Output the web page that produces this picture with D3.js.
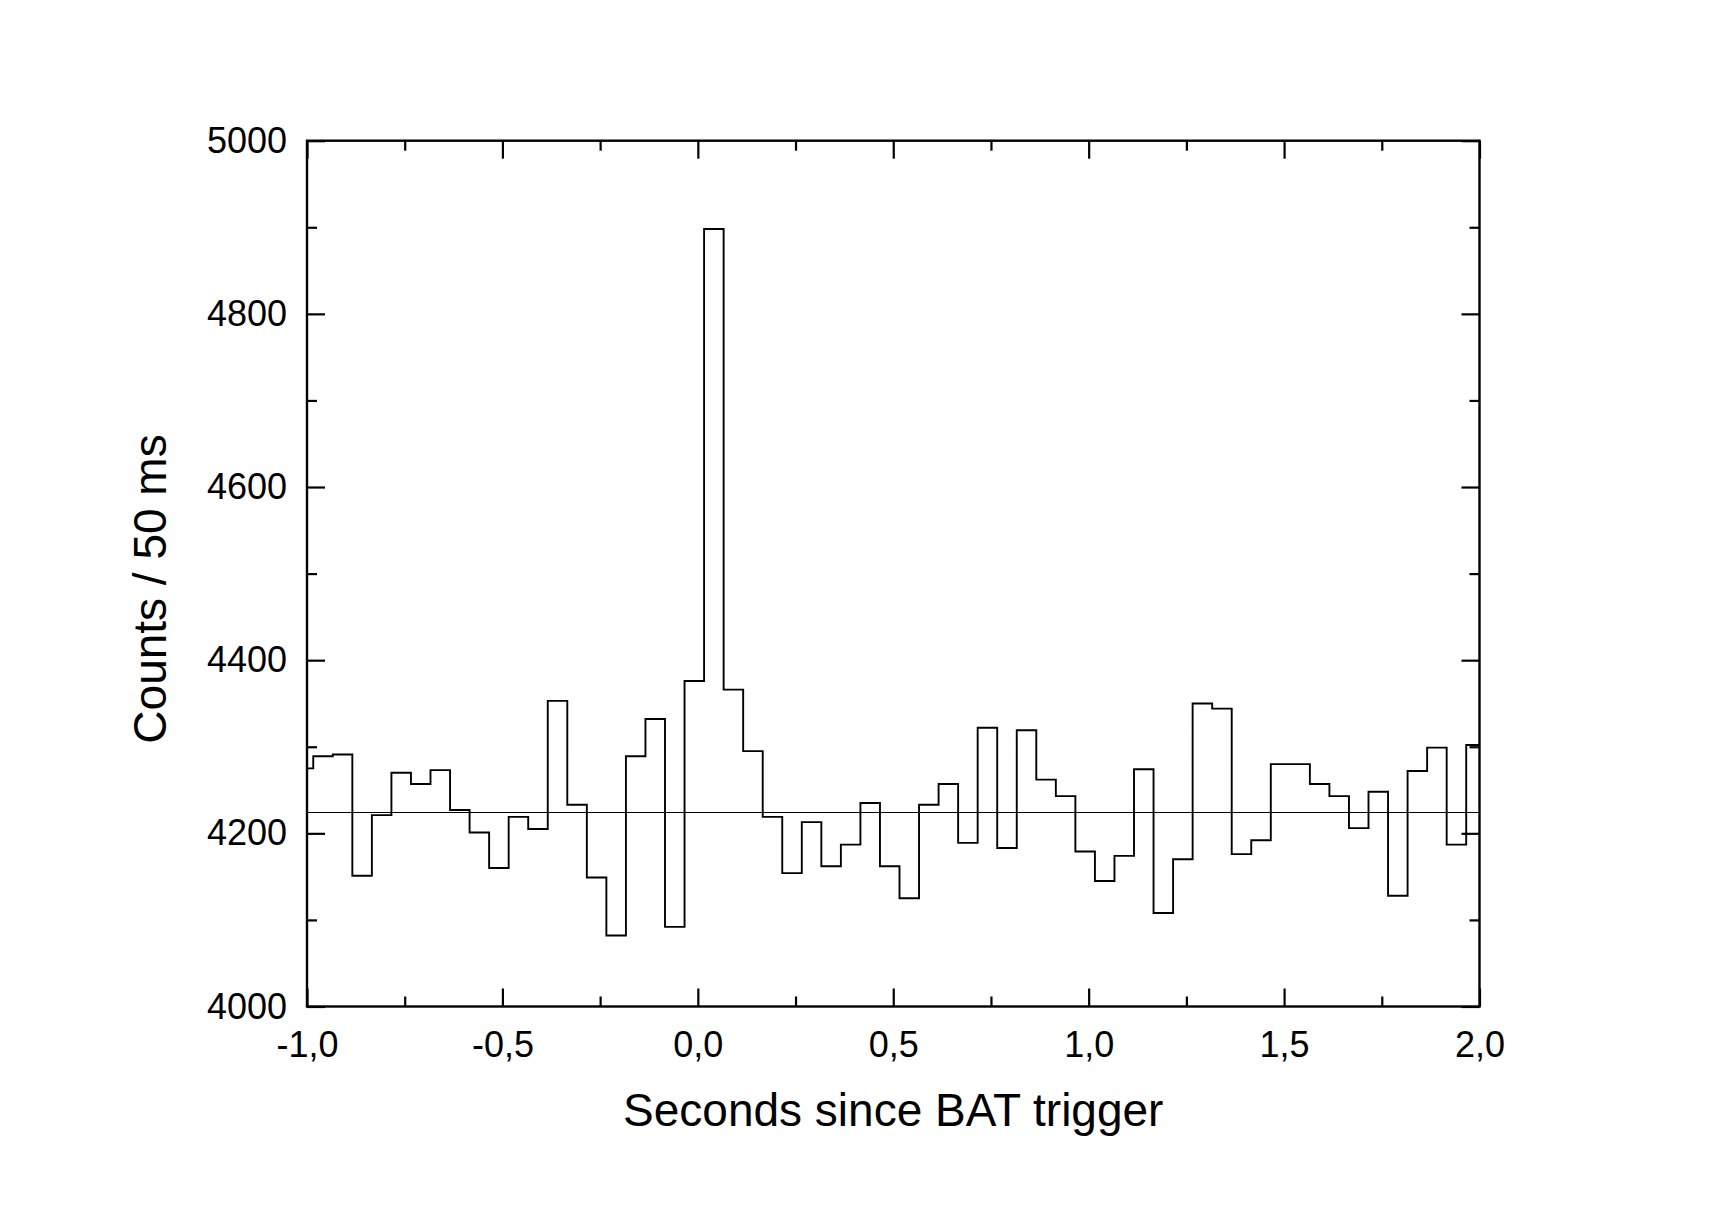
<!DOCTYPE html>
<html>
<head>
<meta charset="utf-8">
<script src="https://cdn.jsdelivr.net/npm/d3@7"></script>
<style>
  html, body { margin: 0; padding: 0; background: #fff; }
  svg { display: block; }
  text { font-family: "Liberation Sans", Arial, Helvetica, sans-serif; fill: #000; }
</style>
</head>
<body>
<script>
// ---- Data ----
const binStarts = [
  -1.034, -0.984, -0.934, -0.884, -0.834, -0.784, -0.734, -0.684, -0.634, -0.584,
  -0.534, -0.484, -0.434, -0.384, -0.334, -0.284, -0.234, -0.184, -0.134, -0.084,
  -0.034,  0.016,  0.066,  0.116,  0.166,  0.216,  0.266,  0.316,  0.366,  0.416,
   0.466,  0.516,  0.566,  0.616,  0.666,  0.716,  0.766,  0.816,  0.866,  0.916,
   0.966,  1.016,  1.066,  1.116,  1.166,  1.216,  1.266,  1.316,  1.366,  1.416,
   1.466,  1.516,  1.566,  1.616,  1.666,  1.716,  1.766,  1.816,  1.866,  1.916,
   1.966
];
const binWidth = 0.05;
const counts = [
  4275, 4289, 4291, 4151, 4221, 4270, 4257, 4273, 4227, 4201,
  4160, 4219, 4205, 4353, 4233, 4149, 4082, 4289, 4332, 4092,
  4376, 4898, 4366, 4295, 4219, 4154, 4213, 4162, 4187, 4235,
  4162, 4125, 4233, 4257, 4189, 4322, 4183, 4319, 4262, 4243,
  4179, 4145, 4174, 4274, 4108, 4170, 4350, 4344, 4176, 4192,
  4280, 4280, 4257, 4243, 4206, 4248, 4128, 4272, 4299, 4187,
  4302
];
const meanLevel = 4224;
const xDomain = [-1, 2];
const yDomain = [4000, 5000];
const xMajorTicks = [-1.0, -0.5, 0.0, 0.5, 1.0, 1.5, 2.0];
const xMinorTicks = [-0.75, -0.25, 0.25, 0.75, 1.25, 1.75];
const yMajorTicks = [4000, 4200, 4400, 4600, 4800, 5000];
const yMinorTicks = [4100, 4300, 4500, 4700, 4900];
const xTitle = "Seconds since BAT trigger";
const yTitle = "Counts / 50 ms";

// ---- Layout ----
const W = 1721, H = 1207;
const pL = 307, pR = 1479.5, pT = 140.7, pB = 1006.5;

const svg = d3.select("body").append("svg")
  .attr("width", W).attr("height", H)
  .attr("viewBox", `0 0 ${W} ${H}`);
svg.append("rect").attr("width", W).attr("height", H).attr("fill", "#fff");

const x = d3.scaleLinear().domain(xDomain).range([pL, pR]);
const y = d3.scaleLinear().domain(yDomain).range([pB, pT]);

const locale = d3.formatLocale({decimal: ",", thousands: "", grouping: [3], currency: ["", ""], minus: "-"});
const fmtX = locale.format(".1f");

svg.append("defs").append("clipPath").attr("id", "plotClip")
  .append("rect").attr("x", pL).attr("y", pT)
  .attr("width", pR - pL).attr("height", pB - pT);

// Mean level line
svg.append("line")
  .attr("x1", x(xDomain[0])).attr("x2", x(xDomain[1]))
  .attr("y1", y(meanLevel)).attr("y2", y(meanLevel))
  .attr("stroke", "#000").attr("stroke-width", 1.1);

// Step histogram
const pts = [];
binStarts.forEach((s, i) => {
  pts.push([s, counts[i]]);
  pts.push([s + binWidth, counts[i]]);
});
const line = d3.line().x(d => x(d[0])).y(d => y(d[1]));
svg.append("path")
  .attr("clip-path", "url(#plotClip)")
  .attr("d", line(pts))
  .attr("fill", "none").attr("stroke", "#000")
  .attr("stroke-width", 1.9).attr("stroke-linejoin", "miter");

// ---- Axes ----
const MAJ = 18, MIN = 10;
const fontSize = 36;

function styleAxis(g) {
  g.select(".domain").remove();
  g.selectAll(".tick line").attr("stroke", "#000").attr("stroke-width", 2.2);
  g.selectAll(".tick text").attr("font-size", fontSize).attr("fill", "#000")
    .attr("font-family", '"Liberation Sans", Arial, sans-serif');
}

// bottom
svg.append("g").attr("transform", `translate(0,${pB})`)
  .call(d3.axisBottom(x).tickValues(xMajorTicks).tickSize(-MAJ).tickPadding(25).tickFormat(fmtX))
  .call(styleAxis);
svg.append("g").attr("transform", `translate(0,${pB})`)
  .call(d3.axisBottom(x).tickValues(xMinorTicks).tickSize(-MIN).tickFormat(""))
  .call(styleAxis);
// top
svg.append("g").attr("transform", `translate(0,${pT})`)
  .call(d3.axisTop(x).tickValues(xMajorTicks).tickSize(-MAJ).tickFormat(""))
  .call(styleAxis);
svg.append("g").attr("transform", `translate(0,${pT})`)
  .call(d3.axisTop(x).tickValues(xMinorTicks).tickSize(-MIN).tickFormat(""))
  .call(styleAxis);
// left
svg.append("g").attr("transform", `translate(${pL},0)`)
  .call(d3.axisLeft(y).tickValues(yMajorTicks).tickSize(-MAJ).tickPadding(20).tickFormat(d3.format("d")))
  .call(styleAxis);
svg.append("g").attr("transform", `translate(${pL},0)`)
  .call(d3.axisLeft(y).tickValues(yMinorTicks).tickSize(-MIN).tickFormat(""))
  .call(styleAxis);
// right
svg.append("g").attr("transform", `translate(${pR},0)`)
  .call(d3.axisRight(y).tickValues(yMajorTicks).tickSize(-MAJ).tickFormat(""))
  .call(styleAxis);
svg.append("g").attr("transform", `translate(${pR},0)`)
  .call(d3.axisRight(y).tickValues(yMinorTicks).tickSize(-MIN).tickFormat(""))
  .call(styleAxis);

// Frame
svg.append("rect")
  .attr("x", pL).attr("y", pT)
  .attr("width", pR - pL).attr("height", pB - pT)
  .attr("fill", "none").attr("stroke", "#000").attr("stroke-width", 2.4);

// Titles
svg.append("text")
  .attr("x", (pL + pR) / 2).attr("y", 1126)
  .attr("text-anchor", "middle").attr("font-size", 46)
  .text(xTitle);
svg.append("text")
  .attr("transform", `translate(166,589) rotate(-90)`)
  .attr("text-anchor", "middle").attr("font-size", 46)
  .text(yTitle);
</script>
</body>
</html>
